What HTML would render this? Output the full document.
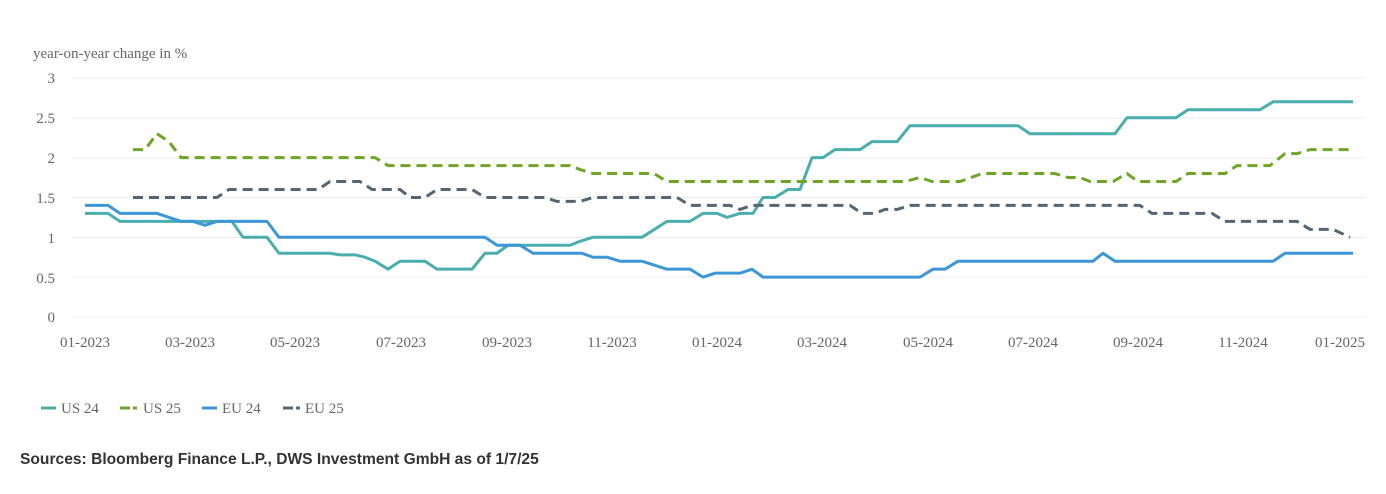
<!DOCTYPE html>
<html><head><meta charset="utf-8"><style>
html,body{margin:0;padding:0;background:#fff;width:1386px;height:494px;overflow:hidden}
svg text{font-family:"Liberation Serif",serif;fill:#666;font-size:15px}
</style></head><body>
<svg width="1386" height="494" viewBox="0 0 1386 494" xmlns="http://www.w3.org/2000/svg">
<text x="33" y="58">year-on-year change in %</text>
<g stroke="#ececec" stroke-width="1">
<line x1="72" x2="1365" y1="78" y2="78"/><line x1="72" x2="1365" y1="118" y2="118"/>
<line x1="72" x2="1365" y1="158" y2="158"/><line x1="72" x2="1365" y1="197.5" y2="197.5"/>
<line x1="72" x2="1365" y1="237.5" y2="237.5"/><line x1="72" x2="1365" y1="277" y2="277"/>
<line x1="72" x2="1365" y1="317" y2="317"/></g>
<g text-anchor="end" font-size="15">
<text x="55" y="83">3</text><text x="55" y="123">2.5</text><text x="55" y="163">2</text>
<text x="55" y="203">1.5</text><text x="55" y="243">1</text><text x="55" y="283">0.5</text><text x="55" y="322">0</text></g>
<g text-anchor="middle" style="font-size:14px">
<text x="85" y="347">01-2023</text><text x="190" y="347">03-2023</text><text x="295" y="347">05-2023</text>
<text x="401" y="347">07-2023</text><text x="507" y="347">09-2023</text><text x="612" y="347">11-2023</text>
<text x="717" y="347">01-2024</text><text x="822" y="347">03-2024</text><text x="928" y="347">05-2024</text>
<text x="1033" y="347">07-2024</text><text x="1138" y="347">09-2024</text><text x="1243" y="347">11-2024</text>
<text x="1340" y="347">01-2025</text></g>
<g transform="translate(0,317) scale(1,-79.7)" fill="none" stroke-width="3" stroke-linejoin="round">
<polyline vector-effect="non-scaling-stroke" stroke="#4aaeae" points="85,1.3 108,1.3 120,1.2 232,1.2 243,1 267,1 279,0.8 330,0.8 340,0.78 355,0.78 365,0.75 375,0.7 388,0.6 400,0.7 425,0.7 437,0.6 472,0.6 485,0.8 497,0.8 508,0.9 570,0.9 580,0.95 593,1 642,1 667,1.2 690,1.2 703,1.3 717,1.3 727,1.25 740,1.3 753,1.3 763,1.5 775,1.5 788,1.6 800,1.6 812,2 823,2 835,2.1 860,2.1 872,2.2 897,2.2 910,2.4 1018,2.4 1030,2.3 1115,2.3 1127,2.5 1176,2.5 1188,2.6 1260,2.6 1273,2.7 1353,2.7"/>
<polyline vector-effect="non-scaling-stroke" stroke="#3d96d6" points="85,1.4 108,1.4 120,1.3 157,1.3 181,1.2 193,1.2 205,1.15 217,1.2 267,1.2 279,1 485,1 497,0.9 520,0.9 533,0.8 582,0.8 593,0.75 607,0.75 620,0.7 642,0.7 667,0.6 690,0.6 703,0.5 715,0.55 740,0.55 752,0.6 763,0.5 920,0.5 933,0.6 945,0.6 958,0.7 1093,0.7 1103,0.8 1115,0.7 1273,0.7 1285,0.8 1353,0.8"/>
<polyline vector-effect="non-scaling-stroke" stroke="#6fa526" stroke-dasharray="10,6" points="133,2.1 145,2.1 157,2.3 169,2.2 181,2 375,2 388,1.9 570,1.9 580,1.85 593,1.8 654,1.8 667,1.7 905,1.7 920,1.75 932,1.7 960,1.7 982,1.8 1055,1.8 1068,1.75 1080,1.75 1090,1.7 1113,1.7 1127,1.8 1138,1.7 1176,1.7 1188,1.8 1225,1.8 1237,1.9 1270,1.9 1285,2.05 1297,2.05 1310,2.1 1353,2.1"/>
<polyline vector-effect="non-scaling-stroke" stroke="#546673" stroke-dasharray="10,6" points="133,1.5 217,1.5 229,1.6 318,1.6 330,1.7 360,1.7 372,1.6 400,1.6 410,1.5 425,1.5 437,1.6 472,1.6 485,1.5 545,1.5 557,1.45 580,1.45 593,1.5 677,1.5 690,1.4 730,1.4 740,1.35 752,1.4 850,1.4 862,1.3 875,1.3 885,1.35 897,1.35 910,1.4 1140,1.4 1152,1.3 1212,1.3 1225,1.2 1297,1.2 1310,1.1 1333,1.1 1350,1"/>
</g>
<g stroke-width="3">
<line x1="41" x2="56" y1="408" y2="408" stroke="#4aaeae"/>
<line x1="120" x2="130" y1="408" y2="408" stroke="#6fa526"/><line x1="133" x2="137" y1="408" y2="408" stroke="#6fa526"/>
<line x1="202" x2="217" y1="408" y2="408" stroke="#3d96d6"/>
<line x1="283" x2="293" y1="408" y2="408" stroke="#546673"/><line x1="296" x2="300" y1="408" y2="408" stroke="#546673"/>
</g>
<g style="font-size:15px">
<text x="61" y="413">US 24</text><text x="143" y="413">US 25</text><text x="222" y="413">EU 24</text><text x="305" y="413">EU 25</text></g>
<text x="20" y="464" style="font-family:'Liberation Sans',sans-serif;font-weight:bold;font-size:15.6px;fill:#333">Sources: Bloomberg Finance L.P., DWS Investment GmbH as of 1/7/25</text>
</svg>
</body></html>
